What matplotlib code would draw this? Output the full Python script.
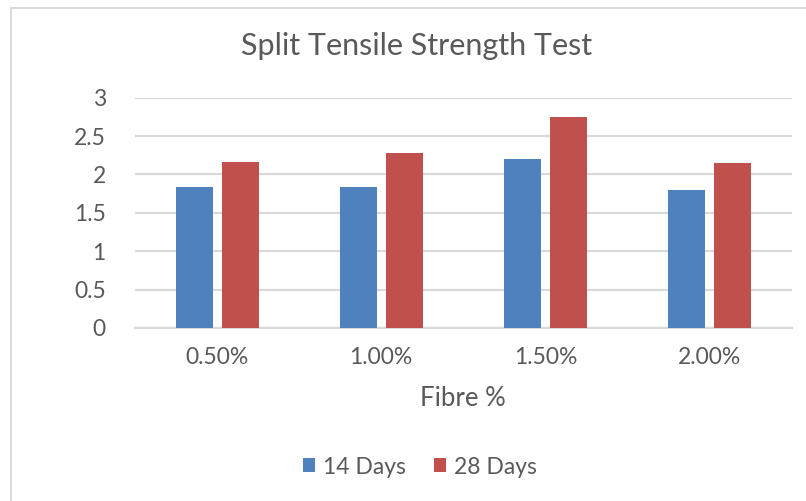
import matplotlib
matplotlib.use("Agg")
import matplotlib.pyplot as plt
import numpy as np
from matplotlib.patches import Rectangle

categories = ["0.50%", "1.00%", "1.50%", "2.00%"]
days14 = [1.84, 1.84, 2.20, 1.80]
days28 = [2.16, 2.28, 2.75, 2.15]
series_names = ["14 Days", "28 Days"]
yticks = [0, 0.5, 1, 1.5, 2, 2.5, 3]
ytick_labels = ["0", "0.5", "1", "1.5", "2", "2.5", "3"]

plt.rcParams['font.family'] = ['Lato', 'DejaVu Sans']
TXT = "#595959"
BLUE = "#4F81BD"
RED = "#C0504D"
GRID = "#D9D9D9"

W, H = 806, 501
fig = plt.figure(figsize=(W / 100, H / 100), dpi=100)
fig.patch.set_facecolor("white")

# chart border
fig.patches.append(Rectangle((10.5 / W, -0.05), 1.2, (H - 7.5) / H + 0.05,
                             transform=fig.transFigure, fill=False,
                             edgecolor=GRID, linewidth=1.5))

ax = fig.add_axes([135 / W, 173 / H, (791.5 - 135) / W, (403.3 - 173) / H])
x = np.arange(len(categories))
bw = 0.225
off = 0.14
ax.bar(x - off, days14, bw, color=BLUE, label=series_names[0], zorder=3)
ax.bar(x + off, days28, bw, color=RED, label=series_names[1], zorder=3)

ax.set_xlim(-0.5, len(categories) - 0.5)
ax.set_ylim(0, 3)
ax.set_yticks(yticks)
ax.set_yticklabels(ytick_labels)
ax.set_xticks(x)
ax.set_xticklabels(categories)
ax.yaxis.grid(True, color=GRID, linewidth=1.6, zorder=0)
ax.set_axisbelow(True)
for s in ["top", "right", "left"]:
    ax.spines[s].set_visible(False)
ax.spines["bottom"].set_color(GRID)
ax.spines["bottom"].set_linewidth(1.6)
ax.tick_params(axis="both", length=0, labelcolor=TXT, labelsize=16.5)
ax.tick_params(axis="y", pad=21)
ax.tick_params(axis="x", pad=14)
ax.set_facecolor("none")

ax.set_xlabel("Fibre %", color=TXT, fontsize=18.5, labelpad=13)

fig.text(417 / W, 1 - 46 / H, "Split Tensile Strength Test", color=TXT,
         fontsize=22, ha="center", va="center")

leg = ax.legend(loc="center", bbox_to_anchor=(420 / W, 1 - 467 / H),
                bbox_transform=fig.transFigure, ncol=2, frameon=False,
                fontsize=16.5, handlelength=0.55, handleheight=0.55,
                handletextpad=0.35, columnspacing=1.2, labelcolor=TXT)

fig.savefig("out.png", dpi=100, facecolor="white")
